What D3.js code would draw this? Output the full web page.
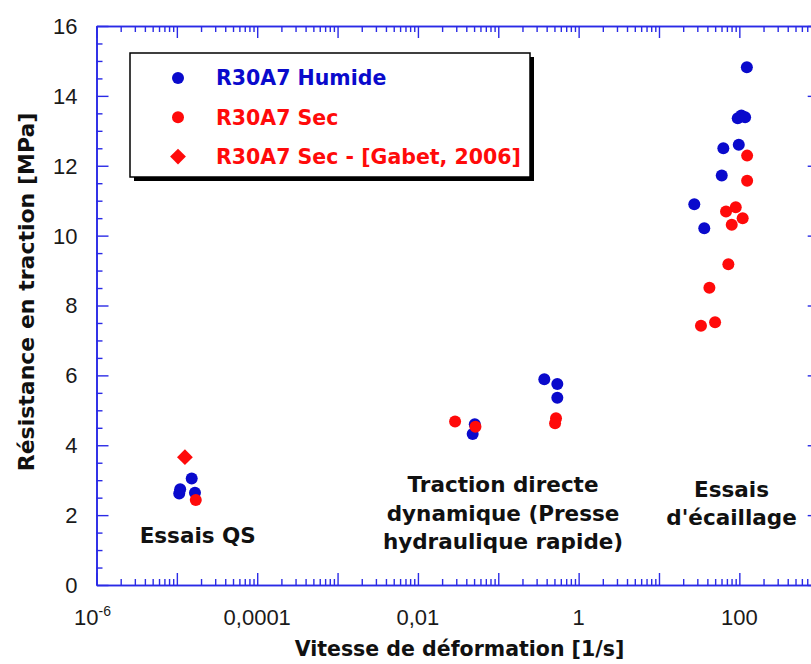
<!DOCTYPE html>
<html>
<head>
<meta charset="utf-8">
<script src="https://cdn.jsdelivr.net/npm/d3@7"></script>
<style>
  html, body { margin: 0; padding: 0; background: #fff; }
  svg { display: block; }
</style>
</head>
<body>
<svg id="chart" width="811" height="664"></svg>
<script>
// Tensile strength of R30A7 concrete versus strain rate (log scale)

// Wet specimens: strain rate [1/s], strength [MPa]
const humideRate = [1.07e-5, 1.1e-5, 1.53e-5, 1.68e-5,
  0.048, 0.051, 0.374, 0.543, 0.543,
  124, 95.5, 106, 118, 98.4, 63.2, 60.4, 27.5, 36.6];
const humideMPa = [2.62, 2.74, 3.05, 2.64,
  4.32, 4.60, 5.89, 5.75, 5.36,
  14.82, 13.36, 13.44, 13.39, 12.60, 12.50, 11.72, 10.90, 10.21];

// Dry specimens
const secRate = [1.72e-5,
  0.029, 0.052, 0.523, 0.509,
  125, 125, 90.2, 68.3, 110, 80.4, 73, 42.4, 49.9, 33.3];
const secMPa = [2.43,
  4.68, 4.53, 4.77, 4.63,
  12.29, 11.57, 10.81, 10.69, 10.50, 10.31, 9.18, 8.51, 7.52, 7.42];

// Dry specimen from [Gabet, 2006]
const gabetRate = [1.26e-5];
const gabetMPa = [3.66];

// Axis ticks
const xLabelValues = [1e-6, 1e-4, 1e-2, 1, 100];
const xLabelTexts = ["10", "0,0001", "0,01", "1", "100"];
const yLabelValues = [0, 2, 4, 6, 8, 10, 12, 14, 16];

// Series names and group captions
const seriesNames = ["R30A7 Humide", "R30A7 Sec", "R30A7 Sec - [Gabet, 2006]"];
const groupLines = [["Essais QS"],
  ["Traction directe", "dynamique (Presse", "hydraulique rapide)"],
  ["Essais", "d'écaillage"]];
const groupRate = [1.82e-5, 0.1146, 80];
const groupMPa = [1.2, 2.65, 2.52];

const BLUE = "#0a0acc";
const RED = "#ff0a0a";
const AXIS = "#2a2ae6";
const BOLD = "'DejaVu Sans', Verdana, sans-serif";
const REG = "'Liberation Sans', Arial, sans-serif";

const svg = d3.select("#chart");
const plotL = 96.5, plotR = 819.7, plotT = 26, plotB = 585;

const x = d3.scaleLog().domain([1e-6, 1e3]).range([plotL, plotR]);
const y = d3.scaleLinear().domain([0, 16]).range([plotB, plotT]);

// tick positions
const decades = d3.range(-6, 4).map(p => Math.pow(10, p));
const xMinor = [];
decades.slice(0, -1).forEach(d => { for (let k = 2; k <= 9; k++) xMinor.push(d * k); });
const yMinor = d3.range(0, 16.01, 0.5).filter(v => v % 2 !== 0);

const MAJ = 12, MIN = 6;

function styleAxis(g) {
  g.select(".domain").attr("stroke", AXIS).attr("stroke-width", 1.6);
  g.selectAll(".tick line").attr("stroke", AXIS).attr("stroke-width", 1.4);
  g.selectAll(".tick text").remove();
}

// bottom axis
svg.append("g").attr("transform", `translate(0,${plotB})`)
  .call(d3.axisBottom(x).tickValues(decades).tickSize(-MAJ).tickSizeOuter(0).tickFormat(""))
  .call(styleAxis);
svg.append("g").attr("transform", `translate(0,${plotB})`)
  .call(d3.axisBottom(x).tickValues(xMinor).tickSize(-MIN).tickSizeOuter(0).tickFormat(""))
  .call(styleAxis);
// top axis
svg.append("g").attr("transform", `translate(0,${plotT})`)
  .call(d3.axisTop(x).tickValues(decades).tickSize(-MAJ).tickSizeOuter(0).tickFormat(""))
  .call(styleAxis);
svg.append("g").attr("transform", `translate(0,${plotT})`)
  .call(d3.axisTop(x).tickValues(xMinor).tickSize(-MIN).tickSizeOuter(0).tickFormat(""))
  .call(styleAxis);
// left axis
svg.append("g").attr("transform", `translate(${plotL},0)`)
  .call(d3.axisLeft(y).tickValues(yLabelValues).tickSize(-MAJ).tickSizeOuter(0).tickFormat(""))
  .call(styleAxis);
svg.append("g").attr("transform", `translate(${plotL},0)`)
  .call(d3.axisLeft(y).tickValues(yMinor).tickSize(-MIN).tickSizeOuter(0).tickFormat(""))
  .call(styleAxis);
// right axis
svg.append("g").attr("transform", `translate(${plotR},0)`)
  .call(d3.axisRight(y).tickValues(yLabelValues).tickSize(-MAJ).tickSizeOuter(0).tickFormat(""))
  .call(styleAxis);
svg.append("g").attr("transform", `translate(${plotR},0)`)
  .call(d3.axisRight(y).tickValues(yMinor).tickSize(-MIN).tickSizeOuter(0).tickFormat(""))
  .call(styleAxis);

// y tick labels
svg.append("g").selectAll("text").data(yLabelValues).join("text")
  .attr("x", plotL - 19).attr("y", d => y(d)).attr("dy", "0.36em")
  .attr("text-anchor", "end")
  .attr("font-family", REG).attr("font-size", 22).attr("fill", "#1a1a1a")
  .text(d => d);

// x tick labels
const xl = svg.append("g").selectAll("text").data(xLabelValues).join("text")
  .attr("x", (d, i) => x(d) - (i === 0 ? 4 : 0)).attr("y", 625)
  .attr("text-anchor", "middle")
  .attr("font-family", REG).attr("font-size", 22).attr("fill", "#1a1a1a")
  .text((d, i) => xLabelTexts[i]);
xl.filter((d, i) => i === 0).append("tspan")
  .attr("dy", -9).attr("font-size", 14).text("-6");

// axis titles
svg.append("text")
  .attr("x", 459.5).attr("y", 656).attr("text-anchor", "middle")
  .attr("font-family", BOLD).attr("font-weight", "bold").attr("font-size", 20.5)
  .attr("fill", "#111").text("Vitesse de déformation [1/s]");
svg.append("text")
  .attr("transform", "translate(34,292) rotate(-90)").attr("text-anchor", "middle")
  .attr("font-family", BOLD).attr("font-weight", "bold").attr("font-size", 22)
  .attr("fill", "#111").text("Résistance en traction [MPa]");

// data points
const R = 6;
const pts = svg.append("g");
pts.selectAll("circle.h").data(d3.zip(humideRate, humideMPa)).join("circle")
  .attr("class", "h").attr("cx", d => x(d[0])).attr("cy", d => y(d[1]))
  .attr("r", R).attr("fill", BLUE);
pts.selectAll("circle.s").data(d3.zip(secRate, secMPa)).join("circle")
  .attr("class", "s").attr("cx", d => x(d[0])).attr("cy", d => y(d[1]))
  .attr("r", R).attr("fill", RED);
const diamond = d3.symbol().type(d3.symbolSquare).size(125);
pts.selectAll("path.g").data(d3.zip(gabetRate, gabetMPa)).join("path")
  .attr("class", "g")
  .attr("transform", d => `translate(${x(d[0])},${y(d[1])}) rotate(45)`)
  .attr("d", diamond).attr("fill", RED);

// group captions
const cap = svg.append("g");
groupLines.forEach((lines, gi) => {
  lines.forEach((t, li) => {
    cap.append("text")
      .attr("x", x(groupRate[gi])).attr("y", y(groupMPa[gi]) + li * 28.5)
      .attr("text-anchor", "middle")
      .attr("font-family", BOLD).attr("font-weight", "bold").attr("font-size", 21.5)
      .attr("fill", "#111").text(t);
  });
});

// legend
const lg = svg.append("g");
lg.append("rect").attr("x", 134).attr("y", 57).attr("width", 400).attr("height", 124).attr("fill", "#000");
lg.append("rect").attr("x", 130).attr("y", 53).attr("width", 400).attr("height", 124)
  .attr("fill", "#fff").attr("stroke", "#000").attr("stroke-width", 1.5);
const legColors = [BLUE, RED, RED];
seriesNames.forEach((name, i) => {
  const cy = 78 + i * 39.3;
  if (i < 2) {
    lg.append("circle").attr("cx", 178).attr("cy", cy).attr("r", R).attr("fill", legColors[i]);
  } else {
    lg.append("path").attr("transform", `translate(178,${cy}) rotate(45)`)
      .attr("d", diamond).attr("fill", legColors[i]);
  }
  lg.append("text").attr("x", 216).attr("y", cy).attr("dy", "0.36em")
    .attr("font-family", BOLD).attr("font-weight", "bold").attr("font-size", 20.5)
    .attr("fill", legColors[i]).text(name);
});
</script>
</body>
</html>
